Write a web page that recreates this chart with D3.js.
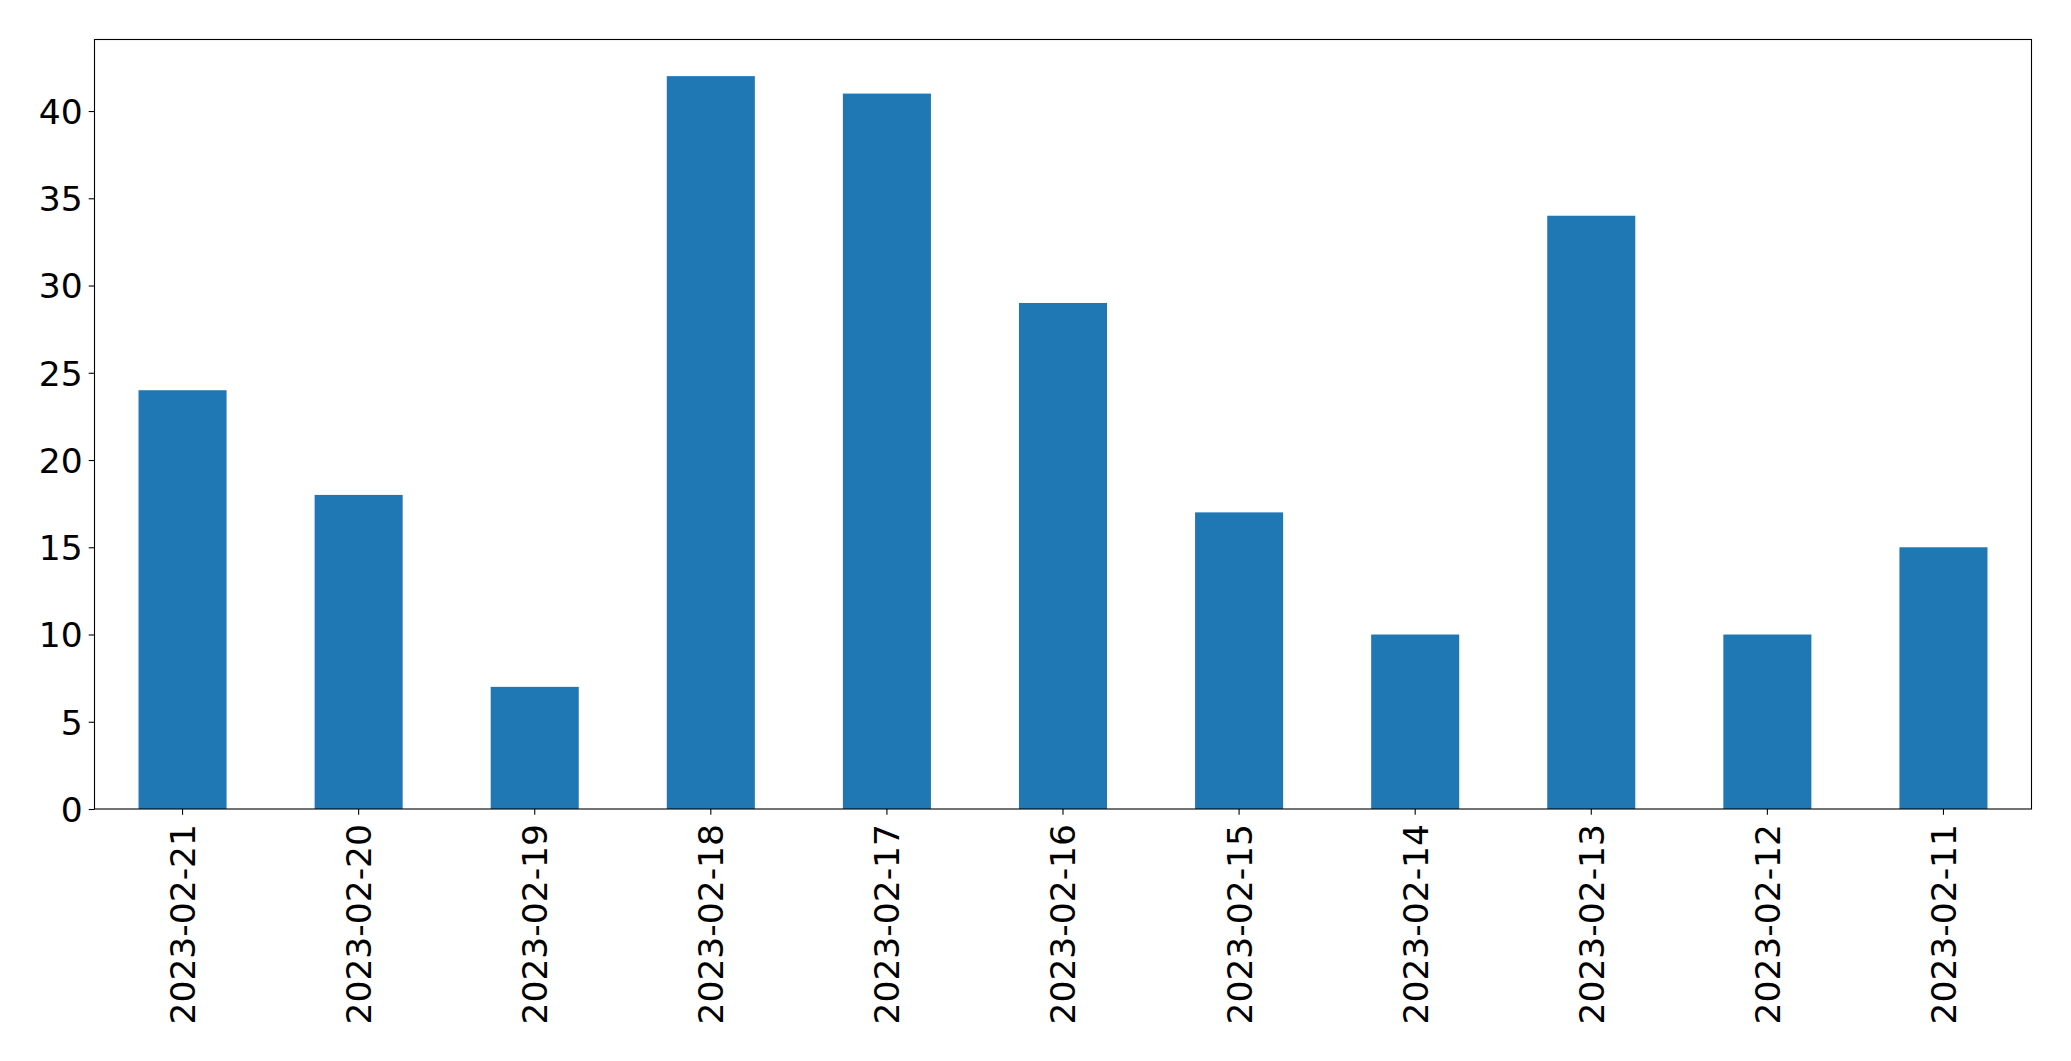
<!DOCTYPE html>
<html><head><meta charset="utf-8">
<script src="https://cdn.jsdelivr.net/npm/d3@7"></script>
<style>body{margin:0;background:#fff}svg{display:block}</style>
</head><body>
<script>
const categories = ["2023-02-21","2023-02-20","2023-02-19","2023-02-18","2023-02-17","2023-02-16","2023-02-15","2023-02-14","2023-02-13","2023-02-12","2023-02-11"];
const values = [24,18,7,42,41,29,17,10,34,10,15];
const yTicks = [0,5,10,15,20,25,30,35,40];

const W = 2071, H = 1061;
const m = {left:94.5, right:2071-2031.5, top:39.5, bottom:1061-809};
const iw = W - m.left - m.right, ih = H - m.top - m.bottom;
const svg = d3.select("body").append("svg").attr("width",W).attr("height",H);
const g = svg.append("g").attr("transform",`translate(${m.left},${m.top})`);

const x = d3.scaleBand().domain(categories).range([0,iw]).paddingInner(0.5).paddingOuter(0.25);
const y = d3.scaleLinear().domain([0, 42*1.05]).range([ih,0]);

g.selectAll("rect.bar").data(values).join("rect").attr("class","bar")
  .attr("x",(d,i)=>x(categories[i])).attr("width",x.bandwidth())
  .attr("y",d=>y(d)).attr("height",d=>ih-y(d)).attr("fill","#1f77b4");

const font = "DejaVu Sans";
const yAxis = g.append("g").call(d3.axisLeft(y).tickValues(yTicks).tickSize(5.8).tickPadding(6).tickFormat(d3.format("d")));
const xAxis = g.append("g").attr("transform",`translate(0,${ih})`).call(d3.axisBottom(x).tickSize(5.8).tickPadding(6));
[yAxis,xAxis].forEach(a=>{
  a.select(".domain").remove();
  a.selectAll("line").attr("stroke","#000").attr("stroke-width",1.1);
  a.selectAll("text").attr("font-family",font).attr("font-size",34.5).attr("fill","#000");
});
yAxis.selectAll("text").attr("dy","0.36em");
xAxis.selectAll("text").attr("transform","rotate(-90)").attr("text-anchor","end")
  .attr("x",-15).attr("y",0).attr("dy","0.36em");

g.append("rect").attr("x",0).attr("y",0).attr("width",iw).attr("height",ih)
  .attr("fill","none").attr("stroke","#000").attr("stroke-width",1.1);
</script>
</body></html>
